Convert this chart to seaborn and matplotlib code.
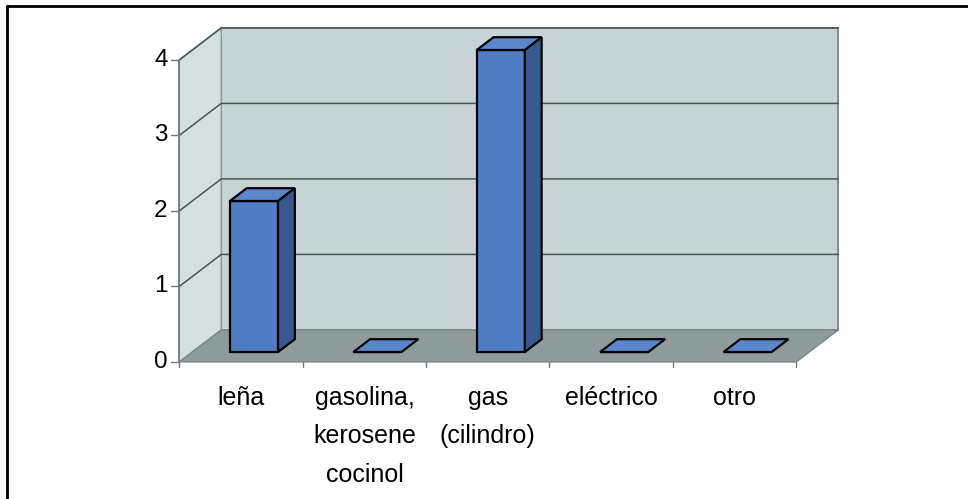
import matplotlib.pyplot as plt
import seaborn as sns
import numpy as np
from matplotlib.patches import Polygon

categories = ['leña', 'gasolina,\nkerosene\ncocinol', 'gas\n(cilindro)', 'eléctrico', 'otro']
values = [2, 0, 4, 0, 0]
y_ticks = [0, 1, 2, 3, 4]

# oblique projection of the Excel style 3D box (data units)
DX, DY = 0.340, 0.424       # full depth vector
T0, T1 = -0.31, 0.69        # floor front / back wall, relative to bar face plane
BD = 0.40                   # bar depth
XL, XR = -0.5, 4.5
YMAX = 4


def proj(x, y, t):
    return (x + t * DX, y + t * DY)


sns.set_theme(style='white')
plt.rcParams['font.family'] = ['Liberation Sans', 'DejaVu Sans']

fig = plt.figure(figsize=(9.68, 4.99), dpi=100)
ax = fig.add_axes([0, 0, 1, 1])

sns.barplot(x=categories, y=values, color='#4f7cc3', saturation=1, width=0.39,
            edgecolor='black', linewidth=1.6, ax=ax, zorder=4)
bars = list(ax.containers[0])

# walls and floor
back = [proj(XL, 0, T1), proj(XR, 0, T1), proj(XR, YMAX, T1), proj(XL, YMAX, T1)]
side = [proj(XL, 0, T0), proj(XL, 0, T1), proj(XL, YMAX, T1), proj(XL, YMAX, T0)]
floor = [proj(XL, 0, T0), proj(XR, 0, T0), proj(XR, 0, T1), proj(XL, 0, T1)]
ax.add_patch(Polygon(back, closed=True, facecolor='#c7d4d5', edgecolor='#6f7e7e', lw=1.2, zorder=1))
ax.add_patch(Polygon(side, closed=True, facecolor='#d4dfdf', edgecolor='#8a9898', lw=1.0, zorder=1))
ax.add_patch(Polygon(floor, closed=True, facecolor='#8d9b9b', edgecolor='#7a8888', lw=1.0, zorder=1.5))

# gridlines: back wall + side wall
for v in y_ticks[1:]:
    xs, ys = zip(proj(XL, v, T0), proj(XL, v, T1), proj(XR, v, T1))
    ax.plot(xs, ys, color='#4a5453', lw=1.1, zorder=2)

# value axis on front edge of side wall
xs, ys = zip(proj(XL, 0, T0), proj(XL, YMAX, T0))
ax.plot(xs, ys, color='#707b7b', lw=1.2, zorder=3)
for v in y_ticks:
    x0, y0 = proj(XL, v, T0)
    ax.plot([x0 - 0.065, x0], [y0, y0], color='#707b7b', lw=1.0, zorder=3)
    ax.text(x0 - 0.095, y0, str(v), ha='right', va='center', fontsize=17.5, color='black')

# category axis on front edge of floor
for i in range(len(categories) + 1):
    x0, y0 = proj(XL + i, 0, T0)
    ax.plot([x0, x0], [y0, y0 - 0.07], color='#707b7b', lw=1.0, zorder=3)
for i, lab in enumerate(categories):
    x0, y0 = proj(i, 0, T0)
    ax.text(x0, y0 - 0.32, lab, ha='center', va='top', fontsize=18,
            linespacing=1.75, color='black')

# 3D faces of the bars
for b in bars:
    x0, w, h = b.get_x(), b.get_width(), b.get_height()
    top = [(x0, h), (x0 + w, h), (x0 + w + BD * DX, h + BD * DY), (x0 + BD * DX, h + BD * DY)]
    ax.add_patch(Polygon(top, closed=True, facecolor='#5a87cb', edgecolor='black', lw=1.6, zorder=4))
    if h > 0:
        sd = [(x0 + w, 0), (x0 + w, h), (x0 + w + BD * DX, h + BD * DY), (x0 + w + BD * DX, BD * DY)]
        ax.add_patch(Polygon(sd, closed=True, facecolor='#36598f', edgecolor='black', lw=1.6, zorder=4))

# figure coordinates: px -> data
ax.set_xlim((0 - 254) / 123.4, (968 - 254) / 123.4)
ax.set_ylim((352 - 499) / 75.5, (352 - 0) / 75.5)
ax.set_axis_off()

# frame of the scanned chart
ax.plot([7 / 968, 1], [1 - 6 / 499, 1 - 6 / 499], color='black', lw=2, transform=ax.transAxes, clip_on=False)
ax.plot([7 / 968, 7 / 968], [0, 1 - 6 / 499], color='black', lw=2, transform=ax.transAxes, clip_on=False)

fig.savefig('out.png', dpi=100)
